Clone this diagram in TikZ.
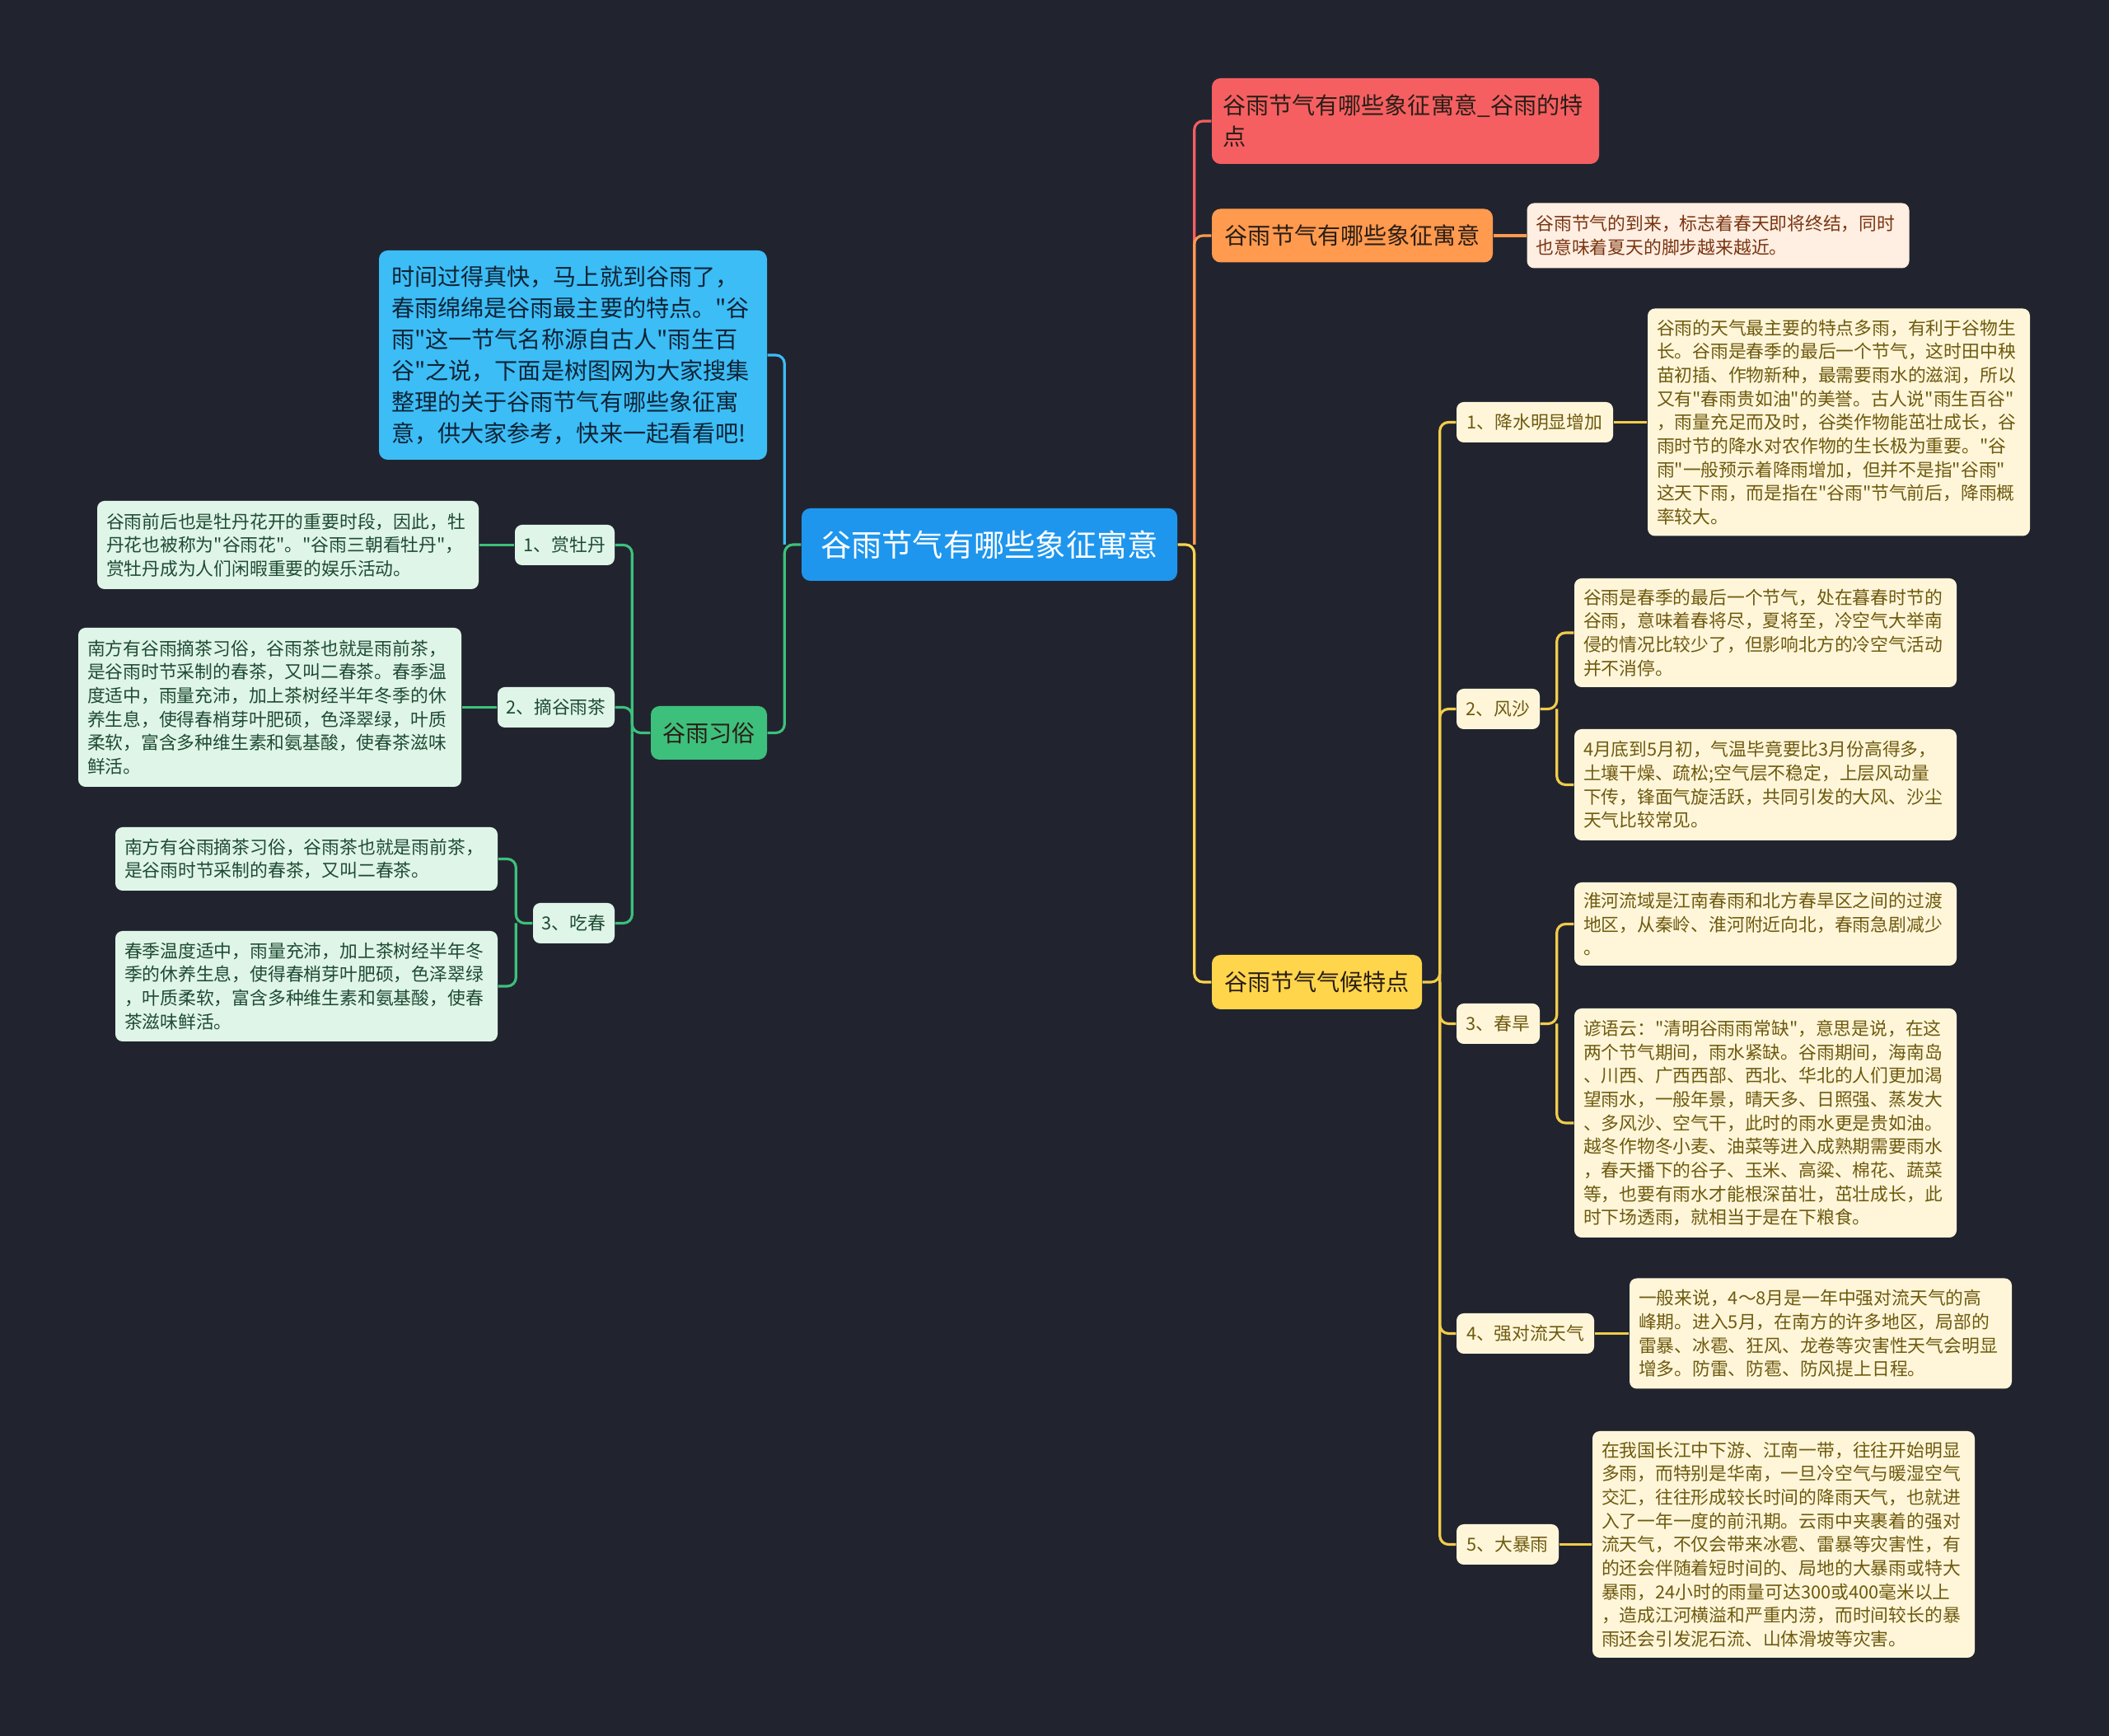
\documentclass[tikz,border=0pt]{standalone}
\usepackage{fontspec}
\setmainfont{Noto Sans CJK SC}[Ligatures=TeXOff]
\usetikzlibrary{calc, positioning}

\definecolor{bgdark}{HTML}{21242F}
\definecolor{rootblue}{HTML}{1E96EE}
\definecolor{redtopic}{HTML}{F55F62}
\definecolor{orangetopic}{HTML}{FF9A4E}
\definecolor{orangeleaf}{HTML}{FFEEE2}
\definecolor{orangetext}{HTML}{7A3510}
\definecolor{yellowtopic}{HTML}{FFD54C}
\definecolor{yellowleaf}{HTML}{FFF6DA}
\definecolor{yellowtext}{HTML}{6E5A0E}
\definecolor{yellowline}{HTML}{F2CC4A}
\definecolor{introblue}{HTML}{3CBDF6}
\definecolor{introtext}{HTML}{0F2436}
\definecolor{greentopic}{HTML}{3DC07C}
\definecolor{greenleaf}{HTML}{DFF5E8}
\definecolor{greentext}{HTML}{1F4B33}
\definecolor{darktext}{HTML}{2A1E16}

\newcommand{\leaffont}{\fontsize{6.2pt}{8.15pt}\selectfont}
\newcommand{\branchfont}{\fontsize{8pt}{10.8pt}\selectfont}
\newcommand{\rootfont}{\fontsize{10.6pt}{13pt}\selectfont}

\tikzset{
  topicbox/.style={
    rounded corners=3pt, align=center, inner sep=0pt, font=\branchfont
  },
  subbox/.style={
    rounded corners=2.5pt, align=center, inner sep=0pt,
    minimum height=0.49cm, font=\leaffont
  },
  leafbox/.style={
    rounded corners=2.5pt, align=left, inner xsep=0.11cm, inner ysep=0pt,
    text width=4.42cm, font=\leaffont
  },
  gsub/.style={subbox, fill=greenleaf, text=greentext},
  gleaf/.style={leafbox, fill=greenleaf, text=greentext},
  ysub/.style={subbox, fill=yellowleaf, text=yellowtext},
  yleaf/.style={leafbox, fill=yellowleaf, text=yellowtext},
  branchline/.style={line width=0.9pt, rounded corners=3pt},
}

\begin{document}
\begin{tikzpicture}
  % background and page size
  \fill[bgdark] (0,0) rectangle (25.6,21.07);
  \useasboundingbox (0,0) rectangle (25.6,21.07);

  % === Central topic ===
  \node[topicbox, fill=rootblue, text=white, font=\rootfont,
        minimum width=4.56cm, minimum height=0.88cm] (root) at (12.01,14.46)
    {谷雨节气有哪些象征寓意};

  % === Right side ===
  \node[topicbox, fill=redtopic, text=darktext, align=left, inner xsep=0.13cm,
        text width=4.44cm, minimum height=1.04cm] (title) at (17.06,19.60)
    {谷雨节气有哪些象征寓意\_谷雨的特\\点};

  \node[topicbox, fill=orangetopic, text=darktext,
        minimum width=3.41cm, minimum height=0.65cm] (meaning) at (16.415,18.21)
    {谷雨节气有哪些象征寓意};
  \node[leafbox, fill=orangeleaf, text=orangetext, minimum height=0.79cm] (meaningleaf) at (20.855,18.21)
    {谷雨节气的到来，标志着春天即将终结，同时\\
     也意味着夏天的脚步越来越近。};

  \node[topicbox, fill=yellowtopic, text=darktext,
        minimum width=2.55cm, minimum height=0.66cm] (climate) at (15.985,9.15)
    {谷雨节气气候特点};

  % climate items
  \node[ysub, minimum width=1.90cm] (rain) at (18.63,15.945) {1、降水明显增加};
  \node[ysub, minimum width=1.01cm] (sand) at (18.185,12.465) {2、风沙};
  \node[ysub, minimum width=1.01cm] (drought) at (18.185,8.645) {3、春旱};
  \node[ysub, minimum width=1.67cm] (storm) at (18.515,4.885) {4、强对流天气};
  \node[ysub, minimum width=1.24cm] (downpour) at (18.30,2.325) {5、大暴雨};

  \node[yleaf, minimum height=2.76cm] (rainleaf) at (22.32,15.945)
    {谷雨的天气最主要的特点多雨，有利于谷物生\\
     长。谷雨是春季的最后一个节气，这时田中秧\\
     苗初插、作物新种，最需要雨水的滋润，所以\\
     又有"春雨贵如油"的美誉。古人说"雨生百谷"\\
     ，雨量充足而及时，谷类作物能茁壮成长，谷\\
     雨时节的降水对农作物的生长极为重要。"谷\\
     雨"一般预示着降雨增加，但并不是指"谷雨"\\
     这天下雨，而是指在"谷雨"节气前后，降雨概\\
     率较大。};

  \node[yleaf, minimum height=1.32cm] (sandleafa) at (21.43,13.39)
    {谷雨是春季的最后一个节气，处在暮春时节的\\
     谷雨，意味着春将尽，夏将至，冷空气大举南\\
     侵的情况比较少了，但影响北方的冷空气活动\\
     并不消停。};
  \node[yleaf, minimum height=1.35cm] (sandleafb) at (21.43,11.545)
    {4月底到5月初，气温毕竟要比3月份高得多，\\
     土壤干燥、疏松;空气层不稳定，上层风动量\\
     下传，锋面气旋活跃，共同引发的大风、沙尘\\
     天气比较常见。};

  \node[yleaf, minimum height=1.01cm] (droughtleafa) at (21.43,9.855)
    {淮河流域是江南春雨和北方春旱区之间的过渡\\
     地区，从秦岭、淮河附近向北，春雨急剧减少\\
     。};
  \node[yleaf, minimum height=2.78cm] (droughtleafb) at (21.43,7.44)
    {谚语云："清明谷雨雨常缺"，意思是说，在这\\
     两个节气期间，雨水紧缺。谷雨期间，海南岛\\
     、川西、广西西部、西北、华北的人们更加渴\\
     望雨水，一般年景，晴天多、日照强、蒸发大\\
     、多风沙、空气干，此时的雨水更是贵如油。\\
     越冬作物冬小麦、油菜等进入成熟期需要雨水\\
     ，春天播下的谷子、玉米、高粱、棉花、蔬菜\\
     等，也要有雨水才能根深苗壮，茁壮成长，此\\
     时下场透雨，就相当于是在下粮食。};

  \node[yleaf, minimum height=1.34cm] (stormleaf) at (22.10,4.885)
    {一般来说，4～8月是一年中强对流天气的高\\
     峰期。进入5月，在南方的许多地区，局部的\\
     雷暴、冰雹、狂风、龙卷等灾害性天气会明显\\
     增多。防雷、防雹、防风提上日程。};

  \node[yleaf, minimum height=2.75cm] (downpourleaf) at (21.65,2.325)
    {在我国长江中下游、江南一带，往往开始明显\\
     多雨，而特别是华南，一旦冷空气与暖湿空气\\
     交汇，往往形成较长时间的降雨天气，也就进\\
     入了一年一度的前汛期。云雨中夹裹着的强对\\
     流天气，不仅会带来冰雹、雷暴等灾害性，有\\
     的还会伴随着短时间的、局地的大暴雨或特大\\
     暴雨，24小时的雨量可达300或400毫米以上\\
     ，造成江河横溢和严重内涝，而时间较长的暴\\
     雨还会引发泥石流、山体滑坡等灾害。};

  % === Left side ===
  \node[topicbox, fill=introblue, text=introtext, align=left, inner xsep=0.15cm,
        text width=4.41cm, minimum height=2.54cm] (intro) at (6.955,16.76)
    {时间过得真快，马上就到谷雨了，\\
     春雨绵绵是谷雨最主要的特点。"谷\\
     雨"这一节气名称源自古人"雨生百\\
     谷"之说，下面是树图网为大家搜集\\
     整理的关于谷雨节气有哪些象征寓\\
     意，供大家参考，快来一起看看吧!};

  \node[topicbox, fill=greentopic, text=darktext,
        minimum width=1.41cm, minimum height=0.65cm] (custom) at (8.605,12.175)
    {谷雨习俗};

  \node[gsub, minimum width=1.21cm] (peony) at (6.855,14.455) {1、赏牡丹};
  \node[gsub, minimum width=1.42cm] (tea) at (6.75,12.485) {2、摘谷雨茶};
  \node[gsub, minimum width=0.99cm] (eat) at (6.965,9.865) {3、吃春};

  \node[gleaf, text width=4.41cm, minimum height=1.07cm] (peonyleaf) at (3.495,14.455)
    {谷雨前后也是牡丹花开的重要时段，因此，牡\\
     丹花也被称为"谷雨花"。"谷雨三朝看牡丹"，\\
     赏牡丹成为人们闲暇重要的娱乐活动。};
  \node[gleaf, text width=4.43cm, minimum height=1.93cm] (tealeaf) at (3.275,12.485)
    {南方有谷雨摘茶习俗，谷雨茶也就是雨前茶，\\
     是谷雨时节采制的春茶，又叫二春茶。春季温\\
     度适中，雨量充沛，加上茶树经半年冬季的休\\
     养生息，使得春梢芽叶肥硕，色泽翠绿，叶质\\
     柔软，富含多种维生素和氨基酸，使春茶滋味\\
     鲜活。};
  \node[gleaf, minimum height=0.77cm] (eatleafa) at (3.72,10.645)
    {南方有谷雨摘茶习俗，谷雨茶也就是雨前茶，\\
     是谷雨时节采制的春茶，又叫二春茶。};
  \node[gleaf, minimum height=1.34cm] (eatleafb) at (3.72,9.10)
    {春季温度适中，雨量充沛，加上茶树经半年冬\\
     季的休养生息，使得春梢芽叶肥硕，色泽翠绿\\
     ，叶质柔软，富含多种维生素和氨基酸，使春\\
     茶滋味鲜活。};

  % === Connectors ===
  \coordinate (rtrunk) at ($(root.east)+(0.2,0)$);
  \coordinate (ltrunk) at ($(root.west)-(0.2,0)$);
  \coordinate (ctrunk) at ($(climate.east)+(0.21,0)$);
  \coordinate (strunk) at ($(sand.east)+(0.2,0)$);
  \coordinate (dtrunk) at ($(drought.east)+(0.2,0)$);
  \coordinate (gtrunk) at ($(custom.west)-(0.22,0)$);
  \coordinate (etrunk) at ($(eat.west)-(0.2,0)$);

  \draw[branchline, redtopic] (rtrunk) |- (title.west);
  \draw[branchline, orangetopic] (rtrunk) |- (meaning.west);
  \draw[branchline, orangetopic] (meaning.east) -- (meaningleaf.west);
  \draw[branchline, yellowtopic] (root.east) -- (rtrunk) |- (climate.west);

  \draw[branchline, yellowline] (climate.east) -- (ctrunk) |- (rain.west);
  \foreach \item in {sand, drought, storm, downpour}
    \draw[branchline, yellowline] (ctrunk) |- (\item.west);
  \draw[branchline, yellowline] (rain.east) -- (rainleaf.west);
  \draw[branchline, yellowline] (sand.east) -- (strunk) |- (sandleafa.west);
  \draw[branchline, yellowline] (strunk) |- (sandleafb.west);
  \draw[branchline, yellowline] (drought.east) -- (dtrunk) |- (droughtleafa.west);
  \draw[branchline, yellowline] (dtrunk) |- (droughtleafb.west);
  \draw[branchline, yellowline] (storm.east) -- (stormleaf.west);
  \draw[branchline, yellowline] (downpour.east) -- (downpourleaf.west);

  \draw[branchline, introblue] (ltrunk) |- (intro.east);
  \draw[branchline, greentopic] (root.west) -- (ltrunk) |- (custom.east);

  \draw[branchline, greentopic] (custom.west) -- (gtrunk) |- (peony.east);
  \draw[branchline, greentopic] (gtrunk) |- (tea.east);
  \draw[branchline, greentopic] (gtrunk) |- (eat.east);
  \draw[branchline, greentopic] (peony.west) -- (peonyleaf.east);
  \draw[branchline, greentopic] (tea.west) -- (tealeaf.east);
  \draw[branchline, greentopic] (eat.west) -- (etrunk) |- (eatleafa.east);
  \draw[branchline, greentopic] (etrunk) |- (eatleafb.east);
\end{tikzpicture}
\end{document}
